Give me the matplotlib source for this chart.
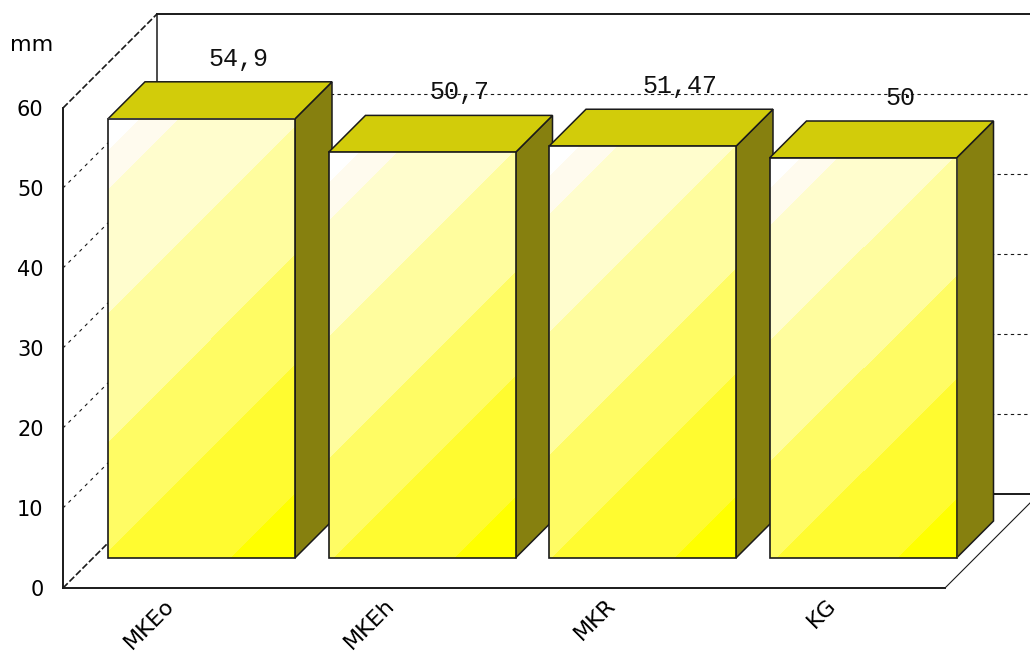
import numpy as np
import matplotlib.pyplot as plt
from matplotlib.patches import Polygon

categories = ['MKEo', 'MKEh', 'MKR', 'KG']
values = [54.9, 50.7, 51.47, 50]
value_labels = ['54,9', '50,7', '51,47', '50']
yticks = [0, 10, 20, 30, 40, 50, 60]

# screen scale of the front plane (pixels per data unit)
PX_X = 220.5      # px per category slot
PX_Y = 8.0        # px per mm
WALL = 94         # depth of the box, px
BAR_Z0 = 30       # depth of the bar front faces, px
BAR_DZ = 37       # bar depth, px
BAR_PAD = 15      # left gap inside a slot, px
BAR_W = 187       # bar width, px

TOP_C = '#D2CC0A'
SIDE_C = '#86800F'
LINE_C = '#1a1a1a'

# diagonal bands of the front faces: (upper bound of t, rgb)
bands = [(0.05, (255, 255, 255)),
         (0.113, (255, 251, 238)),
         (0.31, (255, 253, 205)),
         (0.515, (255, 253, 158)),
         (0.69, (255, 252, 100)),
         (0.895, (255, 251, 48)),
         (1.01, (255, 255, 0))]


def depth(d):
    return d / PX_X, d / PX_Y


fig = plt.figure(figsize=(10.3, 6.61), dpi=100)
ax = fig.add_axes([63 / 1030, 73 / 661, 967 / 1030, 575 / 661])
xmax = 967 / PX_X
ymax = 575 / PX_Y

n = len(categories)
wx, wy = depth(WALL)

# left wall
for v in yticks:
    edge = v in (yticks[0], yticks[-1])
    ax.plot([0, wx], [v, v + wy], color=LINE_C, lw=1.2 if edge else 0.8,
            ls=(0, (4, 1.5)) if edge else (0, (3, 4)), zorder=1)

# back wall
ax.plot([wx, wx], [wy, yticks[-1] + wy], color=LINE_C, lw=1.1, zorder=1)
for v in yticks:
    solid = v in (yticks[0], yticks[-1])
    ax.plot([wx, xmax], [v + wy, v + wy], color=LINE_C,
            lw=1.4 if solid else 0.8, ls='-' if solid else (0, (3, 3)),
            zorder=1)

# floor right edge
ax.plot([n, n + wx], [0, wy], color=LINE_C, lw=0.8, zorder=1)

# bars
fx, fy = depth(BAR_Z0)
bx, by = depth(BAR_DZ)
bounds = np.array([b[0] for b in bands])
cols = np.array([b[1] for b in bands], dtype=float) / 255
for i, (v, lab) in enumerate(zip(values, value_labels)):
    x0 = i + BAR_PAD / PX_X + fx
    x1 = x0 + BAR_W / PX_X
    y0 = fy
    y1 = fy + v
    z = 10 + 4 * i

    ax.add_patch(Polygon([(x1, y0), (x1 + bx, y0 + by), (x1 + bx, y1 + by), (x1, y1)],
                         facecolor=SIDE_C, edgecolor=LINE_C, lw=1.1, zorder=z))
    ax.add_patch(Polygon([(x0, y1), (x1, y1), (x1 + bx, y1 + by), (x0 + bx, y1 + by)],
                         facecolor=TOP_C, edgecolor=LINE_C, lw=1.1, zorder=z))

    w = int(BAR_W)
    h = int(round(v * PX_Y))
    xx, yy = np.meshgrid(np.arange(w), np.arange(h))
    t = (xx + yy) / (w + h)
    img = cols[np.searchsorted(bounds, t)]
    ax.imshow(img, extent=(x0, x1, y0, y1), origin='upper', aspect='auto',
              interpolation='nearest', zorder=z + 1)
    ax.add_patch(Polygon([(x0, y0), (x1, y0), (x1, y1), (x0, y1)],
                         facecolor='none', edgecolor=LINE_C, lw=1.2, zorder=z + 2))

    ax.text((x0 + x1) / 2 + bx, y1 + by + 16 / PX_Y, lab, ha='center', va='baseline',
            fontsize=18, family='Liberation Mono', color='#111111', zorder=40)

ax.set_xlim(0, xmax)
ax.set_ylim(0, ymax)

# front plane axes
for s in ('top', 'right'):
    ax.spines[s].set_visible(False)
ax.spines['left'].set_bounds(yticks[0], yticks[-1])
ax.spines['bottom'].set_bounds(0, n)
for s in ('left', 'bottom'):
    ax.spines[s].set_color(LINE_C)
    ax.spines[s].set_linewidth(1.4)

ax.set_yticks(yticks)
ax.set_yticklabels([str(v) for v in yticks])
ax.tick_params(axis='y', length=0, pad=14, labelsize=15)

ax.set_xticks(np.arange(n) + 0.5 - 9 / PX_X)
ax.set_xticklabels(categories, rotation=45, ha='right', rotation_mode='anchor')
ax.tick_params(axis='x', length=0, pad=5, labelsize=16)

ax.text(-31 / PX_X, (588 - 45) / PX_Y, 'mm', ha='center', va='center', fontsize=16)

fig.savefig('out.png', dpi=100)
